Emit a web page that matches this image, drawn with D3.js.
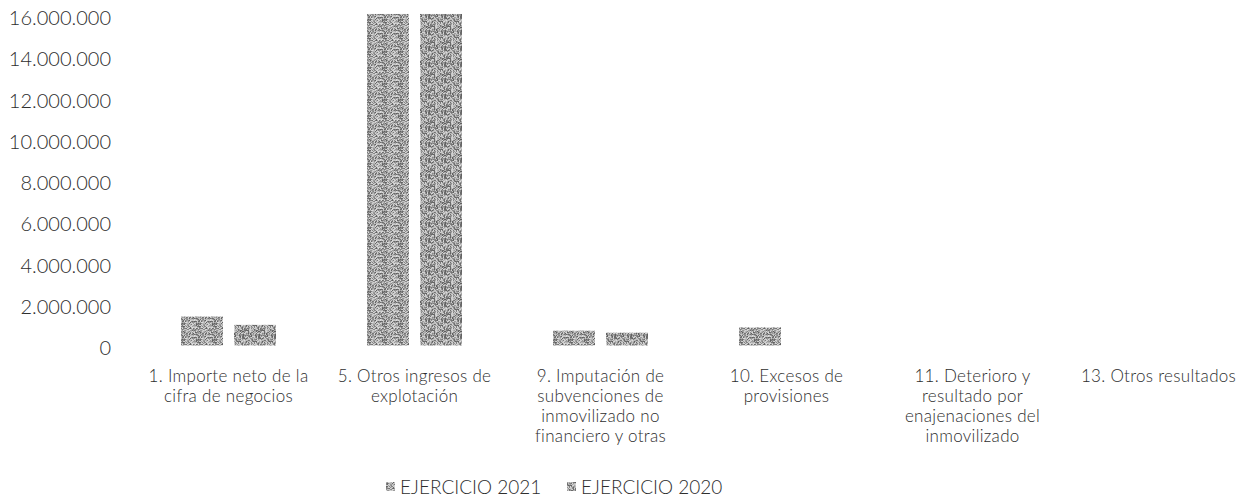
<!DOCTYPE html>
<html>
<head>
<meta charset="utf-8">
<script src="https://cdn.jsdelivr.net/npm/d3@7/dist/d3.min.js"></script>
<style>
  html, body { margin: 0; padding: 0; background: #fff; }
  svg text { font-family: Lato, "Open Sans", sans-serif; font-weight: 300; fill: #2e2e2e; }
</style>
</head>
<body>
<svg id="chart" width="1246" height="500"></svg>
<script>
const categories = [
  "1. Importe neto de la|cifra de negocios",
  "5. Otros ingresos de|explotación",
  "9. Imputación de|subvenciones de|inmovilizado no|financiero y otras",
  "10. Excesos de|provisiones",
  "11. Deterioro y|resultado por|enajenaciones del|inmovilizado",
  "13. Otros resultados"
];
const seriesNames = ["EJERCICIO 2021", "EJERCICIO 2020"];
const values2021 = [1400000, 16050000, 720000, 880000, 0, 0];
const values2020 = [1000000, 16050000, 620000, 0, 0, 0];
const yTicks = [0, 2000000, 4000000, 6000000, 8000000, 10000000, 12000000, 14000000, 16000000];

const svg = d3.select("#chart");
const defs = svg.append("defs");

// speckled grey texture similar to the scanned fill (deterministic hash, purely decorative)
const shades = ["#6a6a6a","#bdbdbd","#8c8c8c","#d2d2d2","#7b7b7b","#a8a8a8",
                "#c6c6c6","#606060","#9c9c9c","#dadada","#858585","#b2b2b2",
                "#959595","#cbcbcb","#737373","#c0c0c0"];
function hash(n) {
  let h = (n * 2654435761) >>> 0;
  h ^= h >>> 15; h = Math.imul(h, 0x85ebca6b) >>> 0;
  h ^= h >>> 13; h = Math.imul(h, 0xc2b2ae35) >>> 0;
  h ^= h >>> 16;
  return h >>> 0;
}
["pat0","pat1"].forEach((id, k) => {
  const N = 16;
  const p = defs.append("pattern").attr("id", id).attr("patternUnits", "userSpaceOnUse")
    .attr("width", N).attr("height", N);
  for (let i = 0; i < N * N; i++) {
    p.append("rect").attr("x", i % N).attr("y", Math.floor(i / N)).attr("width", 1).attr("height", 1)
      .attr("fill", shades[hash(i + 1 + k * 1000) % 16]);
  }
});

const x = d3.scaleBand().domain(categories).range([135.5, 1251.5]).padding(0);
const groupW = 95;
const xs = d3.scaleBand().domain(seriesNames).range([0, groupW]).paddingInner(0.2075).paddingOuter(0);
const y = d3.scaleLinear().domain([0, 16000000]).range([345.5, 15]);

const loc = d3.formatLocale({decimal: ",", thousands: ".", grouping: [3], currency: ["", ""]});
const fmt = loc.format(",d");

// y axis labels
const yAxis = d3.axisLeft(y).tickValues(yTicks).tickFormat(fmt).tickSize(0).tickPadding(0);
const gy = svg.append("g").attr("transform", "translate(111,3)").call(yAxis);
gy.select(".domain").remove();
gy.selectAll("text").style("font-family", "Lato, sans-serif").style("font-weight", 300)
  .style("font-size", "20px").attr("fill", "#2e2e2e");

// bars
const data = categories.map((c, i) => ({c, vals: [values2021[i], values2020[i]]}));
const groups = svg.append("g").selectAll("g").data(data).join("g")
  .attr("transform", d => `translate(${x(d.c) + (x.bandwidth() - groupW) / 2},0)`);
groups.selectAll("rect").data(d => d.vals.map((v, j) => ({v, s: seriesNames[j], j})))
  .join("rect")
  .attr("x", d => xs(d.s))
  .attr("width", xs.bandwidth())
  .attr("y", d => y(d.v))
  .attr("height", d => y(0) - y(d.v))
  .attr("fill", d => `url(#pat${d.j})`);

// category labels
const xAxis = d3.axisBottom(x).tickSize(0).tickFormat(() => "");
const gx = svg.append("g").attr("transform", "translate(0,345.5)").call(xAxis);
gx.select(".domain").remove();
gx.selectAll(".tick").each(function(d) {
  const t = d3.select(this).append("text").attr("text-anchor", "middle")
    .style("font-size", "17px").style("letter-spacing", "0.3px");
  d.split("|").forEach((line, i) => {
    t.append("tspan").attr("x", 0).attr("y", 36 + i * 20).text(line);
  });
});

// legend
const legX = [386, 567];
const leg = svg.append("g");
seriesNames.forEach((s, i) => {
  leg.append("rect").attr("x", legX[i]).attr("y", 482).attr("width", 9).attr("height", 9)
    .attr("fill", `url(#pat${i})`);
  leg.append("text").attr("x", legX[i] + 14).attr("y", 494).style("font-size", "19px").text(s);
});
</script>
</body>
</html>
